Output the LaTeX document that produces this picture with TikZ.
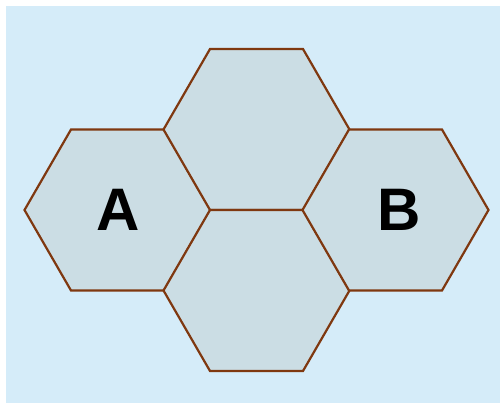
\documentclass[tikz,border=0pt]{standalone}
\usepackage{fontspec}
\setmainfont{Liberation Sans}
\definecolor{bgc}{HTML}{D5ECF9}
\definecolor{hexfill}{HTML}{CBDDE4}
\definecolor{hexline}{HTML}{7F3810}
\begin{document}
\begin{tikzpicture}[x=1pt,y=-1pt,
  hexcell/.style={draw=hexline,fill=hexfill,line width=2.2pt,line join=miter},
  lbl/.style={font=\bfseries\fontsize{60}{62}\selectfont,text=black}]
\useasboundingbox (0,0) rectangle (500,403);
\fill[bgc] (6,6) rectangle (500,403);
\newcommand\hexat[2]{%
  \draw[hexcell] (#1-93,#2) -- (#1-46.5,#2-80.5) -- (#1+46.5,#2-80.5) -- (#1+93,#2) -- (#1+46.5,#2+80.5) -- (#1-46.5,#2+80.5) -- cycle;}
\hexat{117.5}{210}
\hexat{256.5}{129.5}
\hexat{256.5}{290.5}
\hexat{395.5}{210}
\node[lbl] (a) at (118.5,210) {A};
\node[lbl] (b) at (399,210) {B};
\end{tikzpicture}
\end{document}
